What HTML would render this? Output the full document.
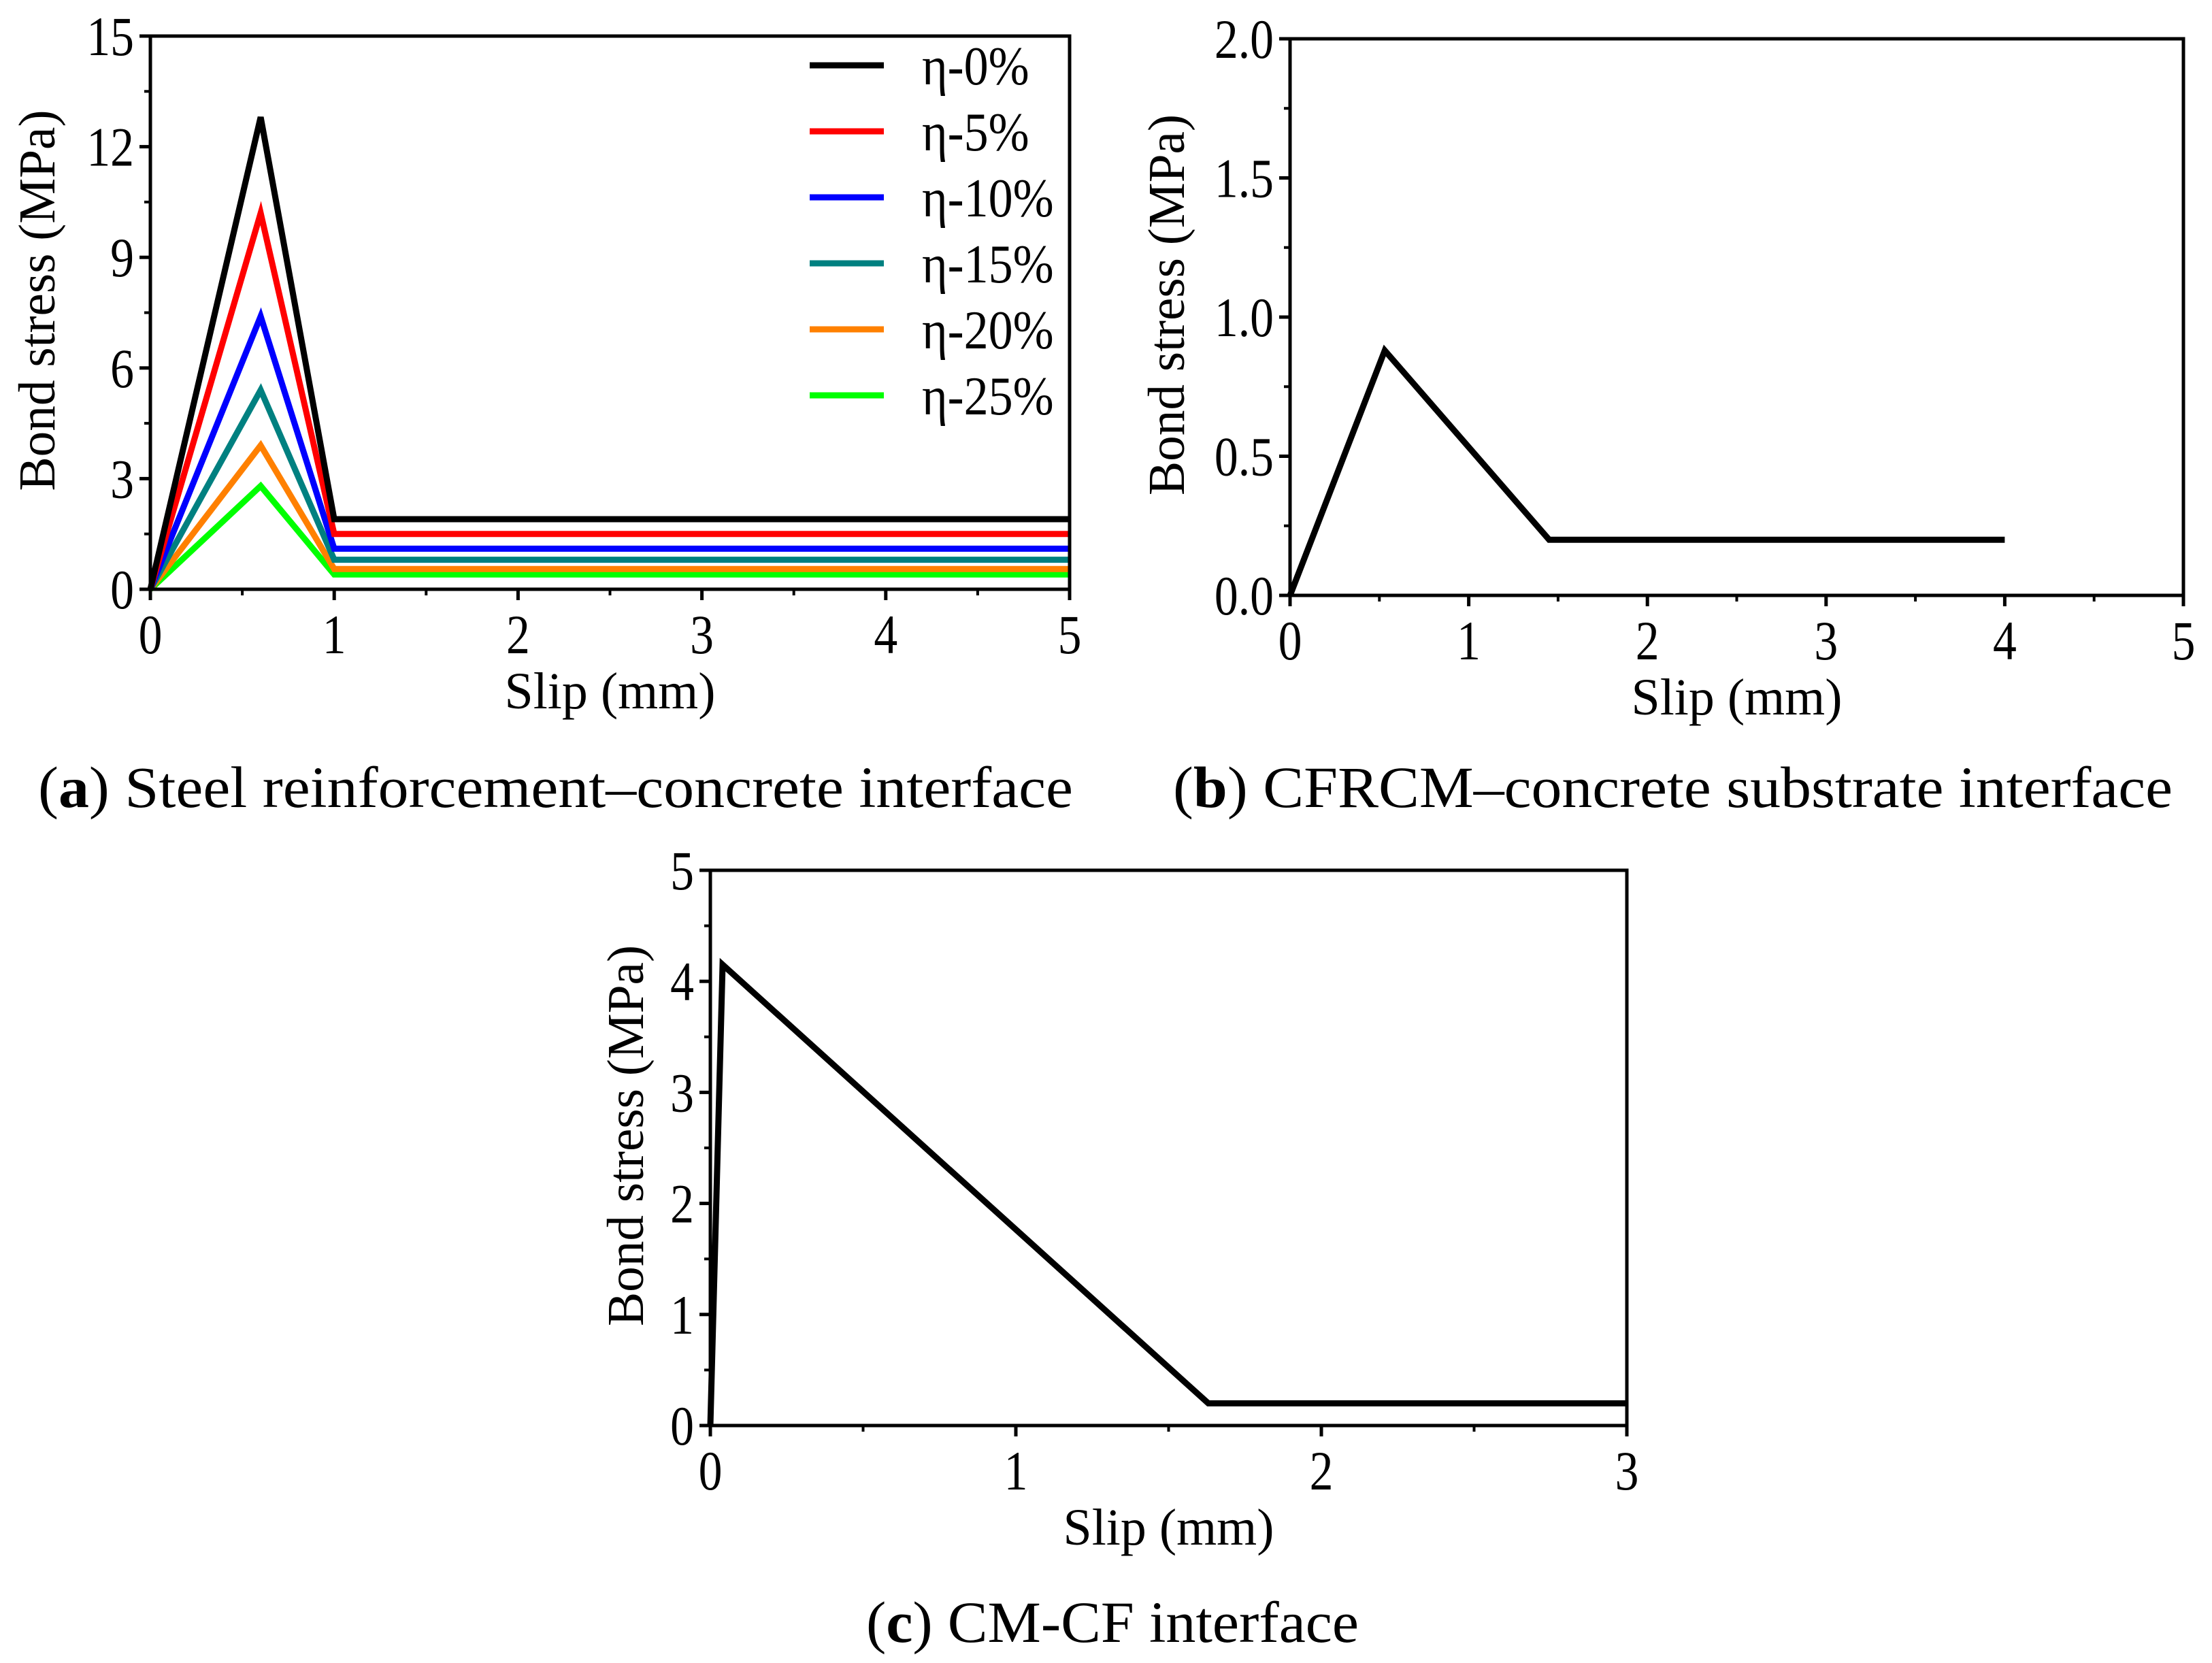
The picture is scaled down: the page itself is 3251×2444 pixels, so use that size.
<!DOCTYPE html>
<html><head><meta charset="utf-8"><style>
html,body{margin:0;padding:0;background:#fff;}
svg{display:block;}
text{font-family:"Liberation Serif",serif;fill:#000;}
</style></head>
<body>
<svg id="fig" width="3251" height="2444" viewBox="0 0 3251 2444" xmlns="http://www.w3.org/2000/svg"></svg>
<script>
// ---- Chart (a) data ----
const aSeriesNames = ["η-0%","η-5%","η-10%","η-15%","η-20%","η-25%"];
const aColors = ["#000000","#ff0000","#0000ff","#008080","#ff8000","#00ff00"];
const aSlip = [0, 0.6, 1.0, 5.0];
const aStress0 = [0, 12.8, 1.9, 1.9];
const aStress5 = [0, 10.2, 1.5, 1.5];
const aStress10 = [0, 7.4, 1.1, 1.1];
const aStress15 = [0, 5.4, 0.8, 0.8];
const aStress20 = [0, 3.9, 0.55, 0.55];
const aStress25 = [0, 2.8, 0.4, 0.4];
const aXTicks = [0,1,2,3,4,5];
const aYTicks = [0,3,6,9,12,15];
// ---- Chart (b) data ----
const bSlip = [0, 0.53, 1.45, 4.0];
const bStress = [0, 0.88, 0.2, 0.2];
const bXTicks = [0,1,2,3,4,5];
const bYTicks = [0,0.5,1.0,1.5,2.0];
const bYLabels = ["0.0","0.5","1.0","1.5","2.0"];
// ---- Chart (c) data ----
const cSlip = [0, 0.04, 1.63, 3.0];
const cStress = [0, 4.15, 0.2, 0.2];
const cXTicks = [0,1,2,3];
const cYTicks = [0,1,2,3,4,5];

const NS = "http://www.w3.org/2000/svg";
const svg = document.getElementById("fig");
function mk(tag, attrs, parent){
  const e = document.createElementNS(NS, tag);
  for (const k in attrs) e.setAttribute(k, attrs[k]);
  (parent||svg).appendChild(e);
  return e;
}

function chart(cfg){
  const g = mk("g", {});
  
  
  const X = v => cfg.L + (v - cfg.x0) / (cfg.x1 - cfg.x0) * (cfg.R - cfg.L);
  const Y = v => cfg.B - (v - cfg.y0) / (cfg.y1 - cfg.y0) * (cfg.B - cfg.T);
  cfg.series.forEach((s, i) => {
    const pts = s.x.map((xv, j) => X(xv).toFixed(1) + "," + Y(s.y[j]).toFixed(1)).join(" ");
    const p = mk("polyline", {points: pts, fill: "none", stroke: s.color, "stroke-width": 9, "stroke-linejoin": "miter"}, g);
    
    
  });
  const fr = mk("rect", {x: cfg.L, y: cfg.T, width: cfg.R - cfg.L, height: cfg.B - cfg.T, fill: "none", stroke: "#000", "stroke-width": 5}, g);
  
  
  const xStep = cfg.xTicks[1] - cfg.xTicks[0];
  cfg.xTicks.forEach((t, i) => {
    mk("line", {x1: X(t), x2: X(t), y1: cfg.B, y2: cfg.B + 16, stroke: "#000", "stroke-width": 5}, g);
    if (i < cfg.xTicks.length - 1) {
      const m = t + xStep / 2;
      mk("line", {x1: X(m), x2: X(m), y1: cfg.B, y2: cfg.B + 9, stroke: "#000", "stroke-width": 4}, g);
    }
    const tx = mk("text", {x: 0, y: 0, "font-size": 82, "text-anchor": "middle", transform: "translate(" + X(t) + "," + (cfg.B + 94) + ") scale(0.85,1)"}, g);
    tx.textContent = String(t);
    
    
  });
  const yStep = cfg.yTicks[1] - cfg.yTicks[0];
  cfg.yTicks.forEach((t, i) => {
    mk("line", {x1: cfg.L - 16, x2: cfg.L, y1: Y(t), y2: Y(t), stroke: "#000", "stroke-width": 5}, g);
    if (i < cfg.yTicks.length - 1) {
      const m = t + yStep / 2;
      mk("line", {x1: cfg.L - 9, x2: cfg.L, y1: Y(m), y2: Y(m), stroke: "#000", "stroke-width": 4}, g);
    }
    const ty = mk("text", {x: 0, y: 0, "font-size": 82, "text-anchor": "end", transform: "translate(" + (cfg.L - 24) + "," + (Y(t) + 28) + ") scale(0.85,1)"}, g);
    ty.textContent = cfg.yLabels ? cfg.yLabels[i] : String(t);
    
    
  });
  const xt = mk("text", {x: (cfg.L + cfg.R) / 2, y: cfg.B + 175, "font-size": 76, "text-anchor": "middle", textLength: 310, lengthAdjust: "spacingAndGlyphs"}, g);
  xt.textContent = "Slip (mm)";
  
  
  const cy = (cfg.T + cfg.B) / 2 - 18;
  const yt = mk("text", {x: 0, y: 0, "font-size": 76, "text-anchor": "middle", textLength: 560, lengthAdjust: "spacingAndGlyphs", transform: "translate(" + cfg.yTitleX + "," + cy + ") rotate(-90)"}, g);
  yt.textContent = "Bond stress (MPa)";
  
  
  const cap = mk("text", {x: cfg.capX, y: cfg.capY, "font-size": 86, textLength: cfg.capW, lengthAdjust: "spacingAndGlyphs"}, g);
  cap.innerHTML = '(<tspan font-weight="bold">' + cfg.capLetter + '</tspan>) ' + cfg.capText;
  
  
  return g;
}

const aStress = [aStress0, aStress5, aStress10, aStress15, aStress20, aStress25];
const ga = chart({
  name: "chart-a-steel-concrete", L: 221, R: 1572, T: 53, B: 866, x0: 0, x1: 5, y0: 0, y1: 15,
  xTicks: aXTicks, yTicks: aYTicks, yTitleX: 80,
  series: aStress.map((ys, i) => ({id: "eta-" + i, x: aSlip, y: ys, color: aColors[i]})).reverse(),
  capX: 56, capY: 1186, capW: 1521, capLetter: "a", capText: "Steel reinforcement–concrete interface"
});
aSeriesNames.forEach((n, i) => {
  const y = 96 + i * 97;
  const ln = mk("line", {x1: 1190, x2: 1299, y1: y, y2: y, stroke: aColors[i], "stroke-width": 9}, ga);
  
  
  const t = mk("text", {x: 0, y: 0, "font-size": 80, transform: "translate(1355," + (y + 28) + ") scale(0.9,1)"}, ga);
  t.textContent = n;
  
  
});

chart({
  name: "chart-b-cfrcm-concrete", L: 1896, R: 3209, T: 57, B: 875, x0: 0, x1: 5, y0: 0, y1: 2,
  xTicks: bXTicks, yTicks: bYTicks, yLabels: bYLabels, yTitleX: 1740,
  series: [{id: "cfrcm", x: bSlip, y: bStress, color: "#000"}],
  capX: 1724, capY: 1186, capW: 1469, capLetter: "b", capText: "CFRCM–concrete substrate interface"
});

chart({
  name: "chart-c-cm-cf", L: 1044, R: 2391, T: 1279, B: 2095, x0: 0, x1: 3, y0: 0, y1: 5,
  xTicks: cXTicks, yTicks: cYTicks, yTitleX: 945,
  series: [{id: "cm-cf", x: cSlip, y: cStress, color: "#000"}],
  capX: 1273, capY: 2413, capW: 724, capLetter: "c", capText: "CM-CF interface"
});
</script>
</body></html>
